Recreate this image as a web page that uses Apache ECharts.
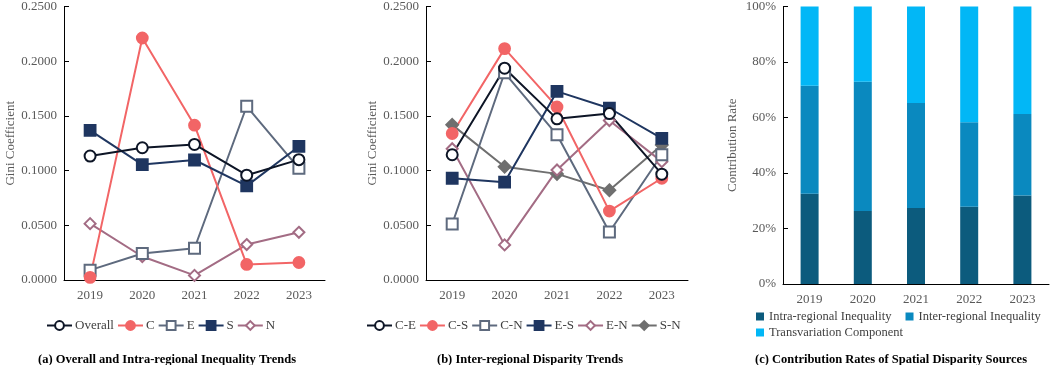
<!DOCTYPE html>
<html>
<head>
<meta charset="utf-8">
<script src="https://cdn.jsdelivr.net/npm/echarts@6/dist/echarts.min.js"></script>
<style>
  html, body { margin: 0; padding: 0; background: #fff; }
  #chart { width: 1052px; height: 365px; }
</style>
</head>
<body>
<div id="chart"></div>
<script>
// 年份
const years = ['2019', '2020', '2021', '2022', '2023']

// (a) 总体与区域内基尼系数
const overall = [0.1133, 0.1209, 0.1239, 0.0958, 0.1100]
const regionC = [0.0024, 0.2212, 0.1415, 0.0142, 0.0160]
const regionE = [0.0090, 0.0242, 0.0290, 0.1588, 0.1021]
const regionS = [0.1367, 0.1055, 0.1097, 0.0860, 0.1221]
const regionN = [0.0515, 0.0215, 0.0042, 0.0324, 0.0436]

// (b) 区域间基尼系数
const pairCE = [0.1145, 0.1936, 0.1473, 0.1521, 0.0967]
const pairCS = [0.1339, 0.2115, 0.1582, 0.0630, 0.0930]
const pairCN = [0.0512, 0.1894, 0.1327, 0.0439, 0.1145]
const pairES = [0.0930, 0.0894, 0.1724, 0.1570, 0.1294]
const pairEN = [0.1200, 0.0321, 0.1006, 0.1458, 0.1082]
const pairSN = [0.1418, 0.1036, 0.0970, 0.0821, 0.1233]

// (c) 贡献率 (%)
const intraShare = [32.5, 26.3, 27.4, 27.8, 31.9]
const interShare = [38.9, 46.6, 37.8, 30.5, 29.4]
const transShare = [28.6, 27.1, 34.8, 41.7, 38.7]

const FONT = '"Liberation Serif", "Times New Roman", serif'
const LABEL_COLOR = '#595959'

const chart = echarts.init(document.getElementById('chart'), null, { renderer: 'canvas' })

// 坐标轴公共样式
const catAxis = (gridIndex) => ({
  type: 'category',
  gridIndex,
  data: years,
  boundaryGap: true,
  axisLine: { lineStyle: { color: '#000', width: 1 } },
  axisTick: { inside: true, length: 5, lineStyle: { color: '#000' } },
  axisLabel: { fontFamily: FONT, fontSize: 13, color: LABEL_COLOR, margin: 9 }
})

const valAxis = (gridIndex, opts) => Object.assign({
  type: 'value',
  gridIndex,
  nameLocation: 'middle',
  nameRotate: 90,
  nameTextStyle: { fontFamily: FONT, fontSize: 13, color: LABEL_COLOR },
  splitLine: { show: false },
  axisLine: { show: true, lineStyle: { color: '#000', width: 1 } },
  axisTick: { show: true, inside: true, length: 5, lineStyle: { color: '#000' } },
  axisLabel: { fontFamily: FONT, fontSize: 13, color: LABEL_COLOR, margin: 7 }
}, opts)

// 折线系列
const lineSeries = (name, data, idx, color, symbol, size) => ({
  name,
  type: 'line',
  xAxisIndex: idx,
  yAxisIndex: idx,
  data,
  symbol,
  symbolSize: size || 11,
  showAllSymbol: true,
  lineStyle: { color, width: 2 },
  itemStyle: { color, borderColor: color, borderWidth: 1.8 }
})

const barSeries = (name, data, color) => ({
  name,
  type: 'bar',
  stack: 'share',
  xAxisIndex: 2,
  yAxisIndex: 2,
  data,
  barWidth: 18,
  itemStyle: { color }
})

const legendText = { fontFamily: FONT, fontSize: 13, color: '#404040' }
const titleText = { fontFamily: FONT, fontSize: 12.5, fontWeight: 'bold', color: '#000' }

// 折线图例
const lineLegend = (data, left) => ({
  data, left, top: 319, padding: 0,
  itemWidth: 25, itemHeight: 11, itemGap: 3,
  textStyle: Object.assign({ padding: [0, 0, 0, -2] }, legendText)
})

// 柱状图例（两行）
const barLegend = (data, top) => ({
  data, left: 756, top, padding: 0,
  itemWidth: 8, itemHeight: 8, itemGap: 14,
  icon: 'rect',
  textStyle: Object.assign({}, legendText, { fontSize: 12.5 })
})

chart.setOption({
  backgroundColor: '#fff',
  animation: false,
  title: [
    { text: '(a) Overall and Intra-regional Inequality Trends', left: 162, top: 348, textAlign: 'center', textStyle: titleText },
    { text: '(b) Inter-regional Disparity Trends', left: 525, top: 348, textAlign: 'center', textStyle: titleText },
    { text: '(c) Contribution Rates of Spatial Disparity Sources', left: 886, top: 348, textAlign: 'center', textStyle: titleText }
  ],
  legend: [
    lineLegend(['Overall', 'C', 'E', 'S', 'N'], 46),
    lineLegend(['C-E', 'C-S', 'C-N', 'E-S', 'E-N', 'S-N'], 366),
    barLegend(['Intra-regional Inequality', 'Inter-regional Inequality'], 310),
    barLegend(['Transvariation Component'], 326)
  ],
  grid: [
    { left: 64, top: 5, width: 261, height: 275 },
    { left: 426, top: 5, width: 262, height: 275 },
    { left: 783, top: 5, width: 266, height: 279 }
  ],
  xAxis: [catAxis(0), catAxis(1), catAxis(2)],
  yAxis: [
    valAxis(0, {
      name: 'Gini Coefficient', nameGap: 46, min: 0, max: 0.25, interval: 0.05,
      axisLabel: { fontFamily: FONT, fontSize: 13, color: LABEL_COLOR, margin: 7, formatter: v => v.toFixed(4) }
    }),
    valAxis(1, {
      name: 'Gini Coefficient', nameGap: 47, min: 0, max: 0.25, interval: 0.05,
      axisLabel: { fontFamily: FONT, fontSize: 13, color: LABEL_COLOR, margin: 7, formatter: v => v.toFixed(4) }
    }),
    valAxis(2, {
      name: 'Contribution Rate', nameGap: 44, min: 0, max: 100, interval: 20,
      axisLabel: { fontFamily: FONT, fontSize: 13, color: LABEL_COLOR, margin: 7, formatter: '{value}%' }
    })
  ],
  series: [
    lineSeries('N', regionN, 0, '#a36c84', 'emptyDiamond', 11),
    lineSeries('E', regionE, 0, '#5e6a7e', 'emptyRect', 11),
    lineSeries('C', regionC, 0, '#f26566', 'circle', 11),
    lineSeries('S', regionS, 0, '#1f3660', 'rect', 11),
    lineSeries('Overall', overall, 0, '#0d1526', 'emptyCircle', 11),

    lineSeries('S-N', pairSN, 1, '#6f6f6f', 'diamond', 12),
    lineSeries('E-N', pairEN, 1, '#a36c84', 'emptyDiamond', 11),
    lineSeries('C-N', pairCN, 1, '#5e6a7e', 'emptyRect', 11),
    lineSeries('C-S', pairCS, 1, '#f26566', 'circle', 11),
    lineSeries('E-S', pairES, 1, '#1f3660', 'rect', 11),
    lineSeries('C-E', pairCE, 1, '#0d1526', 'emptyCircle', 11),

    barSeries('Intra-regional Inequality', intraShare, '#0c5b7d'),
    barSeries('Inter-regional Inequality', interShare, '#0a89bf'),
    barSeries('Transvariation Component', transShare, '#02b7f6')
  ]
})
</script>
</body>
</html>
